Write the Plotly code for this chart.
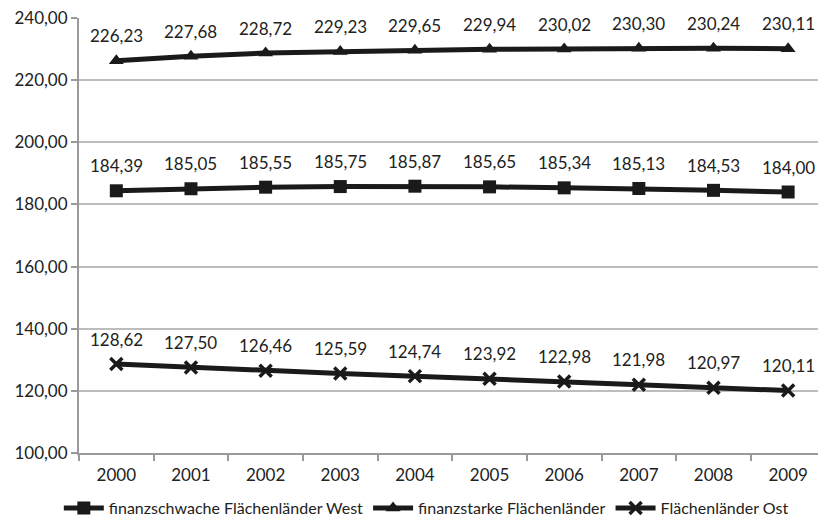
import plotly.graph_objects as go

years = ["2000", "2001", "2002", "2003", "2004", "2005", "2006", "2007", "2008", "2009"]
west = [184.39, 185.05, 185.55, 185.75, 185.87, 185.65, 185.34, 185.13, 184.53, 184.00]
starke = [226.23, 227.68, 228.72, 229.23, 229.65, 229.94, 230.02, 230.30, 230.24, 230.11]
ost = [128.62, 127.50, 126.46, 125.59, 124.74, 123.92, 122.98, 121.98, 120.97, 120.11]

names = ["finanzschwache Flächenländer West", "finanzstarke Flächenländer", "Flächenländer Ost"]
symbols = ["square", "triangle-up", "x-thin-open"]
series = [west, starke, ost]

FONT = "Lato"
fig = go.Figure()
annotations = []
for name, vals, sym in zip(names, series, symbols):
    msize = 13 if sym != "x-thin-open" else 12
    fig.add_trace(go.Scatter(
        x=years, y=vals, name=name, mode="lines+markers",
        line=dict(color="#1a1a1a", width=5),
        marker=dict(symbol=sym, size=msize, color="#1a1a1a",
                    line=dict(color="#1a1a1a", width=3.5 if sym == "x-thin-open" else 0)),
    ))
    for i, v in enumerate(vals):
        annotations.append(dict(
            x=i, y=v, xref="x", yref="y", text=f"{v:.2f}".replace(".", ","), showarrow=False,
            yshift=25, font=dict(size=17, color="#222222", family=FONT)))

fig.update_layout(
    width=818, height=525,
    margin=dict(l=79, r=0, t=18, b=72, autoexpand=False),
    paper_bgcolor="white", plot_bgcolor="white",
    separators=",.",
    font=dict(family=FONT, size=17, color="#222222"),
    showlegend=True,
    legend=dict(orientation="h", x=0.47, xanchor="center",
                yref="container", y=-0.016, yanchor="bottom",
                font=dict(size=16), itemwidth=40, tracegroupgap=0),
    annotations=annotations,
)
fig.update_xaxes(
    type="category", range=[-0.5, 9.4], automargin=False,
    showline=True, linecolor="#9a9a9a", linewidth=2,
    ticks="outside", tickson="boundaries", ticklen=6, tickcolor="#9a9a9a", tickwidth=1.5,
    showgrid=False, tickfont=dict(size=17), ticklabelstandoff=6,
)
fig.update_yaxes(
    range=[100, 240], dtick=20, tickformat=".2f", automargin=False,
    ticklabeloverflow="allow",
    showline=True, linecolor="#9a9a9a", linewidth=2,
    ticks="outside", ticklen=6, tickcolor="#9a9a9a", tickwidth=1.5,
    showgrid=True, gridcolor="#bdbdbd", gridwidth=1.5,
    zeroline=False, tickfont=dict(size=17),
)

fig.write_html("out.html", config={"displayModeBar": False},
               post_script="document.body.style.margin='0';")
